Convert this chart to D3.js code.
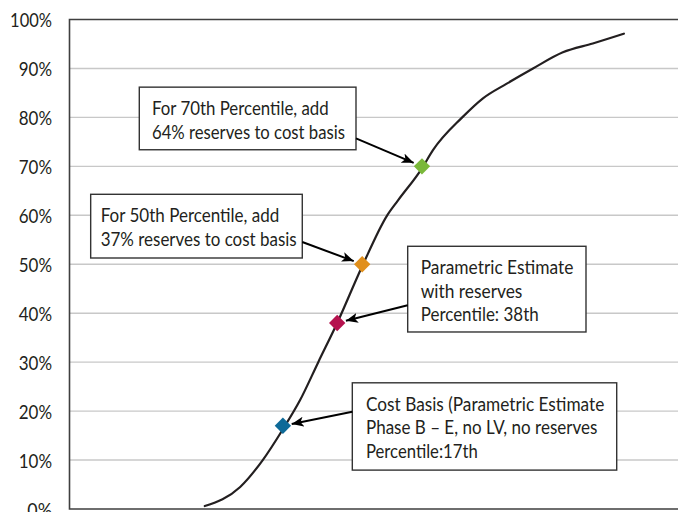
<!DOCTYPE html>
<html>
<head>
<meta charset="utf-8">
<script src="https://cdn.jsdelivr.net/npm/d3@7"></script>
<style>
  html, body { margin: 0; padding: 0; background: #fff; }
  svg { display: block; }
  text { font-family: Lato, "Liberation Sans", sans-serif; fill: #231f20; }
</style>
</head>
<body>
<svg id="chart" width="678" height="512"></svg>
<script>
// ---- data ----
const curveX = [22.1, 27.9, 31.6, 34.9, 37.7, 40.7, 43.8, 47.9, 52.0, 53.8, 57.7, 59.5, 64.3, 67.7, 71.6, 75.9, 80.8, 85.7, 90.8];
const curveY = [0.6, 4.5, 10.0, 16.3, 22.2, 30.0, 38.0, 49.6, 60.0, 63.1, 69.6, 73.3, 80.0, 83.9, 86.9, 90.0, 93.3, 95.1, 97.1];
const markerNames = ["Cost Basis", "Parametric Estimate with reserves", "50th Percentile", "70th Percentile"];
const markerX = [34.9, 43.8, 47.9, 57.7];
const markerY = [17, 38, 50, 70];
const yTicks = [0, 10, 20, 30, 40, 50, 60, 70, 80, 90, 100];
const noteLines = [
  ["Cost Basis (Parametric Estimate", "Phase B \u2013 E, no LV, no reserves", "Percentile:17th"],
  ["Parametric Estimate", "with reserves", "Percentile: 38th"],
  ["For 50th Percentile, add", "37% reserves to cost basis"],
  ["For 70th Percentile, add", "64% reserves to cost basis"]
];
// annotation box anchors (top-left) in data units
const noteX = [46.28, 55.36, 3.39, 11.36];
const noteY = [25.78, 53.67, 64.29, 86.18];

// ---- layout / style ----
const markerColors = ["#0e6a98", "#b5124e", "#e18f1b", "#7ab83a"];
const boxW = [264.4, 178.3, 211.6, 216.7];
const boxH = [87.3, 85.7, 63.7, 62.6];
const padL = [13.7, 13, 10, 12.7];
const lineW = [[238.3, 231.3, 111.7], [152.7, 101.7, 118], [178.7, 196], [176.7, 193]];
const arrowSide = ["left", "left", "right", "right"];
const arrowOff = [29, 59, 47.7, 51.3];

const svg = d3.select("#chart");
const pLeft = 69.5, pTop = 19.5, pBottom = 509, pRight = 690;
const x = d3.scaleLinear().domain([0, 100]).range([70, 680]);
const y = d3.scaleLinear().domain([0, 100]).range([pBottom, pTop]);

// gridlines
svg.append("g").selectAll("line").data(yTicks.filter(d => d > 0 && d < 100)).join("line")
  .attr("x1", pLeft).attr("x2", pRight)
  .attr("y1", d => y(d)).attr("y2", d => y(d))
  .attr("stroke", "#c8c8c8").attr("stroke-width", 1.4);

// frame
svg.append("path")
  .attr("d", `M${pRight},${pTop}H${pLeft}V${pBottom}H${pRight}`)
  .attr("fill", "none").attr("stroke", "#3f3f3f").attr("stroke-width", 1.6);

// y axis labels
const yAxis = d3.axisLeft(y).tickValues(yTicks).tickFormat(d => d + "%").tickSize(0).tickPadding(0);
const ga = svg.append("g").attr("transform", "translate(52,0)").call(yAxis);
ga.select(".domain").remove();
ga.selectAll("text")
  .attr("font-family", "Lato, sans-serif")
  .attr("font-size", 18.5).attr("fill", "#231f20")
  .attr("dy", "0.4em")
  .attr("textLength", d => (String(d).length + 1) * 8.6 + 7.5)
  .attr("lengthAdjust", "spacingAndGlyphs");

// curve
const pts = curveX.map((v, i) => [v, curveY[i]]);
svg.append("path")
  .datum(pts)
  .attr("d", d3.line().x(d => x(d[0])).y(d => y(d[1])).curve(d3.curveMonotoneX))
  .attr("fill", "none").attr("stroke", "#231f20").attr("stroke-width", 2.2)
  .attr("stroke-linecap", "round");

// arrow marker
svg.append("defs").append("marker")
  .attr("id", "arr").attr("viewBox", "0 0 12 10").attr("refX", 12).attr("refY", 5)
  .attr("markerWidth", 12).attr("markerHeight", 10).attr("markerUnits", "userSpaceOnUse")
  .attr("orient", "auto")
  .append("path").attr("d", "M0,0L12,5L0,10L3,5Z").attr("fill", "#000");

// annotations
noteLines.forEach((lines, i) => {
  const bx = x(noteX[i]), by = y(noteY[i]);
  const g = svg.append("g");
  g.append("rect").attr("x", bx).attr("y", by).attr("width", boxW[i]).attr("height", boxH[i])
    .attr("fill", "#fff").attr("stroke", "#333").attr("stroke-width", 1.4);
  g.selectAll("text").data(lines).join("text")
    .attr("x", bx + padL[i])
    .attr("y", (d, j) => by + 28 + j * 23.6)
    .attr("font-size", 19.5)
    .attr("textLength", (d, j) => lineW[i][j])
    .attr("lengthAdjust", "spacingAndGlyphs")
    .text(d => d);
  // arrow
  const sx = arrowSide[i] === "left" ? bx : bx + boxW[i];
  const sy = by + arrowOff[i];
  const mx = x(markerX[i]), my = y(markerY[i]);
  const dx = sx - mx, dy = sy - my, len = Math.hypot(dx, dy);
  const tx = mx + dx / len * 9, ty = my + dy / len * 9;
  svg.append("line").attr("x1", sx).attr("y1", sy).attr("x2", tx).attr("y2", ty)
    .attr("stroke", "#000").attr("stroke-width", 2).attr("marker-end", "url(#arr)");
});

// markers (diamonds)
svg.append("g").selectAll("path").data(markerX).join("path")
  .attr("transform", (d, i) => `translate(${x(d)},${y(markerY[i])})`)
  .attr("d", d3.symbol().type(d3.symbolDiamond2).size(170))
  .attr("fill", (d, i) => markerColors[i]);
</script>
</body>
</html>
